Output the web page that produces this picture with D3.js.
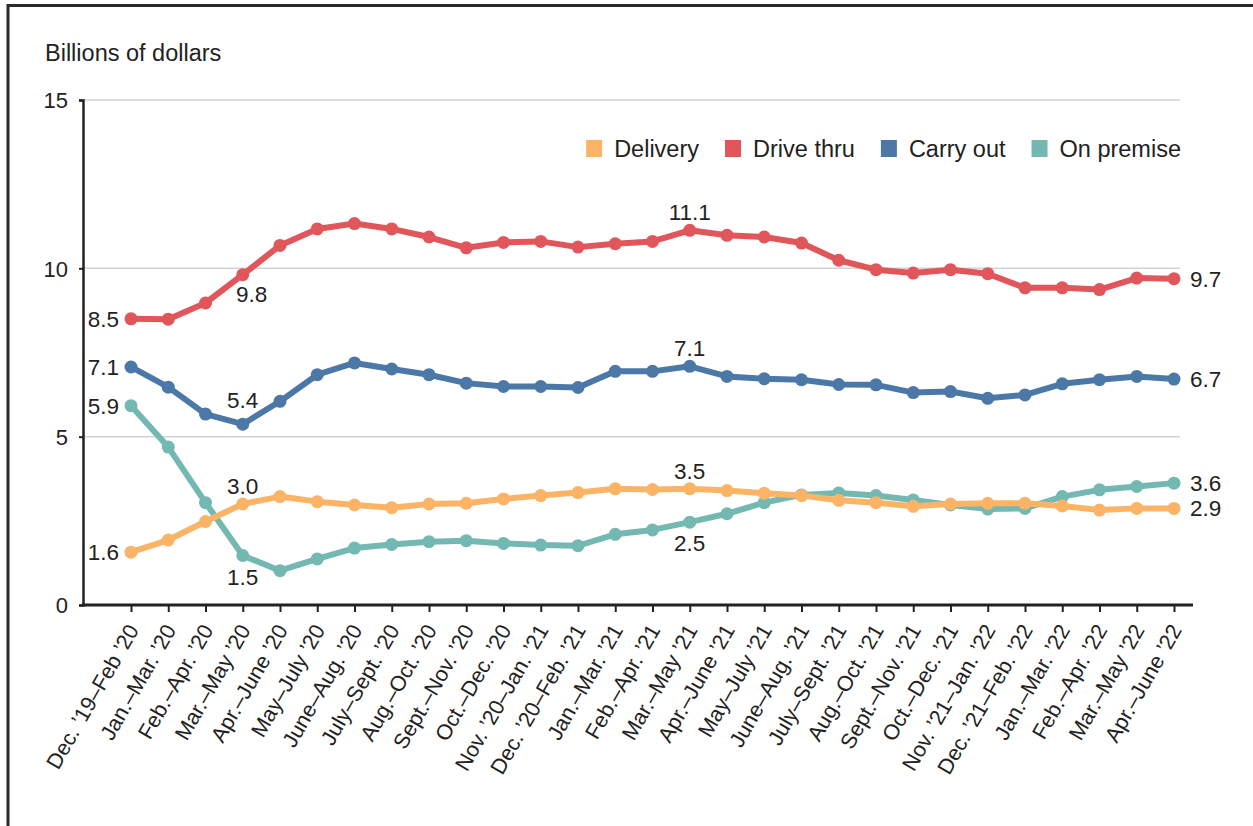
<!DOCTYPE html>
<html>
<head>
<meta charset="utf-8">
<script src="https://cdn.jsdelivr.net/npm/d3@7"></script>
<style>
  body { margin: 0; background: #fff; }
  svg text { font-family: "Liberation Sans", Arial, sans-serif; fill: #222; }
</style>
</head>
<body>
<div id="chart"></div>
<script>
const periods = [
  "Dec. ’19–Feb ’20", "Jan.–Mar. ’20", "Feb.–Apr. ’20", "Mar.–May ’20", "Apr.–June ’20",
  "May–July ’20", "June–Aug. ’20", "July–Sept. ’20", "Aug.–Oct. ’20", "Sept.–Nov. ’20",
  "Oct.–Dec. ’20", "Nov. ’20–Jan. ’21", "Dec. ’20–Feb. ’21", "Jan.–Mar. ’21", "Feb.–Apr. ’21",
  "Mar.–May ’21", "Apr.–June ’21", "May–July ’21", "June–Aug. ’21", "July–Sept. ’21",
  "Aug.–Oct. ’21", "Sept.–Nov. ’21", "Oct.–Dec. ’21", "Nov. ’21–Jan. ’22", "Dec. ’21–Feb. ’22",
  "Jan.–Mar. ’22", "Feb.–Apr. ’22", "Mar.–May ’22", "Apr.–June ’22"
];

const delivery = [1.57, 1.93, 2.48, 3.0, 3.22, 3.07, 2.97, 2.89, 3.0, 3.02,
  3.15, 3.25, 3.34, 3.45, 3.43, 3.45, 3.40, 3.32, 3.25, 3.11,
  3.04, 2.93, 3.0, 3.02, 3.02, 2.94, 2.82, 2.87, 2.87];
const driveThru = [8.5, 8.49, 8.97, 9.81, 10.68, 11.17, 11.33, 11.17, 10.93, 10.61,
  10.77, 10.8, 10.63, 10.73, 10.8, 11.13, 10.98, 10.93, 10.75, 10.24,
  9.96, 9.86, 9.96, 9.84, 9.42, 9.42, 9.37, 9.71, 9.69];
const carryOut = [7.07, 6.47, 5.67, 5.37, 6.05, 6.84, 7.19, 7.01, 6.84, 6.59,
  6.49, 6.49, 6.46, 6.94, 6.94, 7.09, 6.79, 6.72, 6.69, 6.55,
  6.54, 6.31, 6.34, 6.14, 6.24, 6.57, 6.69, 6.79, 6.71];
const onPremise = [5.92, 4.69, 3.04, 1.47, 1.02, 1.37, 1.69, 1.8, 1.88, 1.91,
  1.83, 1.78, 1.76, 2.1, 2.23, 2.46, 2.71, 3.04, 3.27, 3.33,
  3.25, 3.12, 2.97, 2.85, 2.87, 3.22, 3.42, 3.52, 3.62];

const seriesNames = ["Delivery", "Drive thru", "Carry out", "On premise"];
const seriesColors = ["#fbb466", "#e1565a", "#4c78a8", "#74b8b2"];
const yTicks = [0, 5, 10, 15];

// value callouts: series, point index, text, placement
const callouts = [
  ["Drive thru", 0, "8.5", "left"], ["Drive thru", 3, "9.8", "belowRight"],
  ["Drive thru", 15, "11.1", "above"], ["Drive thru", 28, "9.7", "right"],
  ["Carry out", 0, "7.1", "left"], ["Carry out", 3, "5.4", "aboveHigh"],
  ["Carry out", 15, "7.1", "above"], ["Carry out", 28, "6.7", "right"],
  ["On premise", 0, "5.9", "left"], ["On premise", 3, "1.5", "below"],
  ["On premise", 15, "2.5", "below"], ["On premise", 28, "3.6", "right"],
  ["Delivery", 0, "1.6", "left"], ["Delivery", 3, "3.0", "above"],
  ["Delivery", 15, "3.5", "above"], ["Delivery", 28, "2.9", "right"]
];

const values = {"Delivery": delivery, "Drive thru": driveThru, "Carry out": carryOut, "On premise": onPremise};

const width = 1253;
const height = 826;
const margin = {top: 100, right: 73, bottom: 221, left: 83};

const svg = d3.select("#chart")
  .append("svg")
  .attr("width", width)
  .attr("height", height);

// frame
svg.append("path")
  .attr("d", `M8,${height} L8,5.5 L${width},5.5`)
  .attr("fill", "none")
  .attr("stroke", "#2a2a2a")
  .attr("stroke-width", 3);

const x = d3.scalePoint()
  .domain(periods)
  .range([131, 1174]);

const y = d3.scaleLinear()
  .domain([0, 15])
  .range([height - margin.bottom, margin.top]);

const color = d3.scaleOrdinal().domain(seriesNames).range(seriesColors);

// gridlines
svg.append("g")
  .selectAll("line")
  .data(yTicks.filter(d => d > 0))
  .join("line")
  .attr("x1", margin.left)
  .attr("x2", 1180)
  .attr("y1", d => y(d))
  .attr("y2", d => y(d))
  .attr("stroke", "#d3d3d3")
  .attr("stroke-width", 1.5);

// Y axis
const yAxis = svg.append("g")
  .attr("transform", `translate(${margin.left},0)`)
  .call(d3.axisLeft(y).tickValues(yTicks).tickSize(4).tickPadding(11));
yAxis.select(".domain").attr("stroke", "#222").attr("stroke-width", 2.5);
yAxis.selectAll(".tick line").attr("stroke", "#222").attr("stroke-width", 2);
yAxis.selectAll(".tick text").style("font-size", "22px").attr("dy", "0.36em");

// X axis
const xAxis = svg.append("g")
  .attr("transform", `translate(0,${y(0)})`)
  .call(d3.axisBottom(x).tickSize(7).tickPadding(6));
xAxis.select(".domain").remove();
xAxis.append("line")
  .attr("x1", margin.left - 1)
  .attr("x2", 1193)
  .attr("stroke", "#222")
  .attr("stroke-width", 3);
xAxis.selectAll(".tick line").attr("stroke", "#222").attr("stroke-width", 2);
xAxis.selectAll(".tick text")
  .style("font-size", "21.5px")
  .attr("text-anchor", "end")
  .attr("x", 0)
  .attr("y", 0)
  .attr("dy", 0)
  .attr("transform", "translate(8,25) rotate(-60)");

// title
svg.append("text")
  .attr("x", 45)
  .attr("y", 61)
  .style("font-size", "23.5px")
  .text("Billions of dollars");

// lines
const line = d3.line()
  .x((d, i) => x(periods[i]))
  .y(d => y(d));

const drawOrder = ["On premise", "Carry out", "Drive thru", "Delivery"];
drawOrder.forEach(name => {
  const g = svg.append("g");
  g.append("path")
    .datum(values[name])
    .attr("d", line)
    .attr("fill", "none")
    .attr("stroke", color(name))
    .attr("stroke-width", 6)
    .attr("stroke-linejoin", "round");
  g.selectAll("circle")
    .data(values[name])
    .join("circle")
    .attr("cx", (d, i) => x(periods[i]))
    .attr("cy", d => y(d))
    .attr("r", 6.5)
    .attr("fill", color(name));
});

// callouts
const place = {
  left:       {dx: -12, dy: 8,   anchor: "end"},
  right:      {dx: 16,  dy: 8,   anchor: "start"},
  above:      {dx: 0,   dy: -10, anchor: "middle"},
  aboveHigh:  {dx: 0,   dy: -16, anchor: "middle"},
  below:      {dx: 0,   dy: 29,  anchor: "middle"},
  belowRight: {dx: 9,   dy: 27,  anchor: "middle"}
};
svg.append("g")
  .selectAll("text")
  .data(callouts)
  .join("text")
  .attr("x", d => x(periods[d[1]]) + place[d[3]].dx)
  .attr("y", d => y(values[d[0]][d[1]]) + place[d[3]].dy)
  .attr("text-anchor", d => place[d[3]].anchor)
  .style("font-size", "22.5px")
  .text(d => d[2]);

// legend, right aligned at the end of the gridlines
const legend = svg.append("g");
let lx = 1181;
seriesNames.slice().reverse().forEach(name => {
  const t = legend.append("text")
    .attr("y", 157)
    .style("font-size", "23.5px")
    .text(name);
  const w = t.node().getComputedTextLength();
  lx -= w;
  t.attr("x", lx);
  legend.append("rect")
    .attr("x", lx - 28)
    .attr("y", 140)
    .attr("width", 16)
    .attr("height", 17)
    .attr("fill", color(name));
  lx -= 28 + 26;
});
</script>
</body>
</html>
